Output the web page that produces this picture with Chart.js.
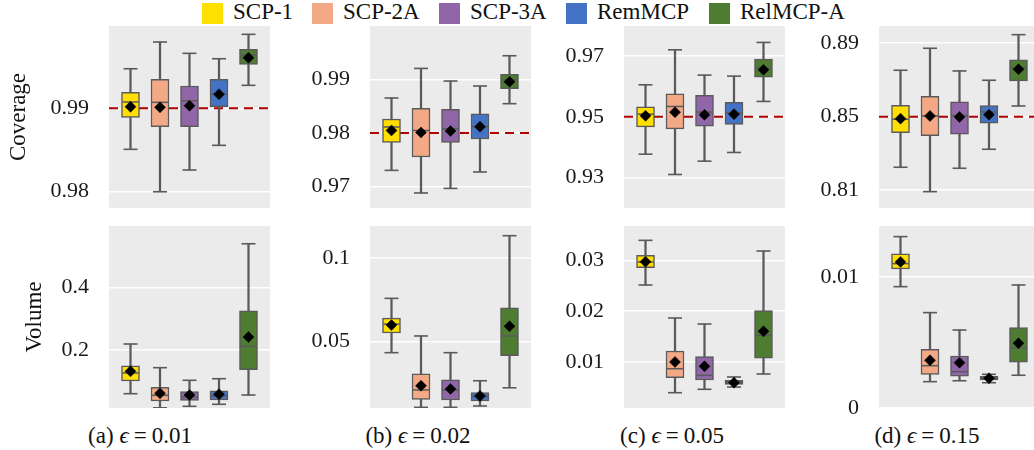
<!DOCTYPE html>
<html><head><meta charset="utf-8">
<script src="https://cdn.jsdelivr.net/npm/chart.js@4"></script>
<style>
body{margin:0;width:1034px;height:450px;overflow:hidden;background:#fff;position:relative;font-family:'Liberation Serif',serif;color:#111}
canvas{position:absolute}
.sq{position:absolute;width:21px;height:21px;top:3px}
.lt{position:absolute;top:0;font-size:23px;line-height:23px;white-space:nowrap}
.cap{position:absolute;top:424px;width:220px;text-align:center;font-size:23px;line-height:23px;white-space:nowrap}
.eq{margin:0 5px}
</style></head><body>
<div id="legend"></div>
<div id="caps"></div>
<canvas id="cA" width="270" height="202" style="left:0px;top:11px"></canvas>
<canvas id="cB" width="251" height="202" style="left:280px;top:11px"></canvas>
<canvas id="cC" width="251" height="202" style="left:534px;top:11px"></canvas>
<canvas id="cD" width="251" height="202" style="left:789px;top:11px"></canvas>
<canvas id="vA" width="270" height="202" style="left:0px;top:221px"></canvas>
<canvas id="vB" width="251" height="202" style="left:280px;top:221px"></canvas>
<canvas id="vC" width="251" height="202" style="left:534px;top:221px"></canvas>
<canvas id="vD" width="251" height="202" style="left:789px;top:221px"></canvas>
<script>
// ---- data ----
const methods = ['SCP-1', 'SCP-2A', 'SCP-3A', 'RemMCP', 'RelMCP-A'];
const colors = ['#FFDF00', '#F4A986', '#9066A8', '#4472C4', '#4E7D32'];
const epsilons = ['0.01', '0.02', '0.05', '0.15'];
const panelLetters = ['a', 'b', 'c', 'd'];
const targets = [0.99, 0.98, 0.95, 0.85];

// rows per method: [whisker low, Q1, median, Q3, whisker high, mean]
const covA = [
  [0.98508, 0.98892, 0.99076, 0.99192, 0.99475, 0.99019],
  [0.97999, 0.98779, 0.99072, 0.99348, 0.99796, 0.99012],
  [0.98260, 0.98779, 0.99091, 0.99268, 0.99660, 0.99031],
  [0.98556, 0.99019, 0.99175, 0.99348, 0.99595, 0.99168],
  [0.99276, 0.99528, 0.99640, 0.99708, 0.99888, 0.99607]];
const covB = [
  [0.97304, 0.97825, 0.98112, 0.98261, 0.98652, 0.98048],
  [0.96883, 0.97553, 0.98048, 0.98458, 0.99203, 0.98011],
  [0.96968, 0.97825, 0.98080, 0.98440, 0.98968, 0.98037],
  [0.97274, 0.97888, 0.98117, 0.98359, 0.98875, 0.98117],
  [0.98546, 0.98825, 0.98993, 0.99091, 0.99439, 0.98955]];
const covC = [
  [0.93773, 0.94671, 0.95089, 0.95329, 0.96053, 0.95033],
  [0.93105, 0.94605, 0.95342, 0.95757, 0.97204, 0.95155],
  [0.93543, 0.94694, 0.95155, 0.95704, 0.96372, 0.95066],
  [0.93829, 0.94750, 0.95132, 0.95474, 0.96339, 0.95089],
  [0.95507, 0.96306, 0.96612, 0.96898, 0.97447, 0.96546]];
const covD = [
  [0.82241, 0.84128, 0.84858, 0.85622, 0.87530, 0.84891],
  [0.80911, 0.83964, 0.85038, 0.86112, 0.88729, 0.85038],
  [0.82186, 0.84040, 0.85055, 0.85802, 0.87492, 0.84984],
  [0.83222, 0.84640, 0.85256, 0.85600, 0.86985, 0.85109],
  [0.85583, 0.86947, 0.87672, 0.88092, 0.89471, 0.87585]];
const volA = [
  [0.0598, 0.1005, 0.1262, 0.1496, 0.2193, 0.1316],
  [0.0145, 0.0364, 0.0546, 0.0803, 0.1433, 0.0611],
  [0.0193, 0.0384, 0.0492, 0.0662, 0.1028, 0.0556],
  [0.0258, 0.0396, 0.0524, 0.0694, 0.1079, 0.0579],
  [0.0556, 0.1368, 0.2119, 0.3261, 0.5410, 0.2417]];
const volB = [
  [0.0432, 0.0550, 0.0603, 0.0639, 0.0757, 0.0597],
  [0.0105, 0.0153, 0.0209, 0.0306, 0.0532, 0.0234],
  [0.0105, 0.0149, 0.0209, 0.0270, 0.0432, 0.0215],
  [0.0113, 0.0143, 0.0171, 0.0193, 0.0264, 0.0173],
  [0.0222, 0.0414, 0.0533, 0.0701, 0.1132, 0.0590]];
const volC = [
  [0.02514, 0.02855, 0.02967, 0.03098, 0.03393, 0.02972],
  [0.00396, 0.00691, 0.00868, 0.01216, 0.01865, 0.01000],
  [0.00463, 0.00646, 0.00738, 0.01104, 0.01747, 0.00915],
  [0.00508, 0.00561, 0.00600, 0.00640, 0.00705, 0.00593],
  [0.00764, 0.01073, 0.01525, 0.02009, 0.03183, 0.01604]];
const volD = [
  [0.00926, 0.01061, 0.01102, 0.01176, 0.01308, 0.01115],
  [0.00201, 0.00257, 0.00323, 0.00448, 0.00728, 0.00364],
  [0.00208, 0.00242, 0.00277, 0.00397, 0.00595, 0.00346],
  [0.00193, 0.00214, 0.00227, 0.00242, 0.00257, 0.00227],
  [0.00250, 0.00349, 0.00458, 0.00613, 0.00939, 0.00494]];

// axis ranges and ticks
const covRanges = [[0.97804, 0.99988], [0.96603, 0.99993], [0.92003, 0.97987], [0.80019, 0.89943]];
const volRanges = [[0.0139, 0.598], [0.0101, 0.119], [0.00095, 0.03675], [0, 0.01389]];
const covTicks = [[0.98, 0.99], [0.97, 0.98, 0.99], [0.93, 0.95, 0.97], [0.81, 0.85, 0.89]];
const volTicks = [[0.2, 0.4], [0.05, 0.1], [0.01, 0.02, 0.03], [0, 0.01]];

// ---- layout / style ----
const FONT = "'Liberation Serif', 'DejaVu Serif', serif";
const EDGE = '#5a5a5a';
const XHALF = 2.729;
Chart.defaults.font.family = FONT;

const bgPlugin = {
  id: 'bg',
  beforeDraw(chart) {
    const a = chart.chartArea, c = chart.ctx;
    c.save(); c.fillStyle = '#EBEBEB';
    c.fillRect(a.left, a.top, a.right - a.left, a.bottom - a.top);
    c.restore();
  }
};

function makePanel(id, stats, range, ticks, target, axisW, title, titlePad, padTop, padBottom) {
  const xs = stats.map((s, i) => i - 2);
  const datasets = [];
  datasets.push({
    type: 'bar', data: stats.map((s, i) => ({x: xs[i], y: [s[0], s[4]]})),
    backgroundColor: EDGE, barThickness: 1.6, grouped: false, order: 10, borderWidth: 0
  });
  datasets.push({
    type: 'bar', data: stats.map((s, i) => ({x: xs[i], y: [s[1], s[3]]})),
    backgroundColor: colors, borderColor: EDGE, borderWidth: 1.5, borderSkipped: false,
    barThickness: 18, grouped: false, order: 5
  });
  const capData = [];
  stats.forEach((s, i) => { capData.push({x: xs[i], y: s[0]}); capData.push({x: xs[i], y: s[4]}); });
  datasets.push({
    type: 'scatter', data: capData, pointStyle: 'line', pointRadius: 7,
    borderColor: EDGE, pointBorderColor: EDGE, pointBorderWidth: 1.6, order: 4
  });
  datasets.push({
    type: 'scatter', data: stats.map((s, i) => ({x: xs[i], y: s[2]})), pointStyle: 'line', pointRadius: 8.2,
    borderColor: EDGE, pointBorderColor: EDGE, pointBorderWidth: 1.5, order: 3
  });
  datasets.push({
    type: 'scatter', data: stats.map((s, i) => ({x: xs[i], y: s[5]})), pointStyle: 'rectRot', pointRadius: 5.5,
    backgroundColor: '#000', borderColor: '#000', pointBackgroundColor: '#000', pointBorderColor: '#000',
    pointBorderWidth: 0.5, order: 1
  });
  if (target !== null) {
    datasets.push({
      type: 'line', data: [{x: -XHALF, y: target}, {x: XHALF, y: target}],
      borderColor: '#B00000', borderWidth: 2, borderDash: [9, 6], pointRadius: 0, order: 12
    });
  }
  return new Chart(document.getElementById(id), {
    type: 'bar',
    data: {datasets},
    plugins: [bgPlugin],
    options: {
      responsive: false, animation: false, events: [],
      layout: {autoPadding: false, padding: {top: padTop, bottom: padBottom, left: 0, right: 0}},
      plugins: {legend: {display: false}, tooltip: {enabled: false}},
      scales: {
        x: {type: 'linear', min: -XHALF, max: XHALF, offset: false, display: false, grid: {display: false, offset: false}},
        y: {
          type: 'linear', min: range[0], max: range[1], beginAtZero: false,
          afterBuildTicks: (s) => { s.ticks = ticks.map(v => ({value: v})); },
          afterFit: (s) => { s.width = axisW; s.paddingTop = 0; s.paddingBottom = 0; },
          ticks: {color: '#1a1a1a', padding: 20, font: {size: 22, family: FONT}, callback: (v) => String(v)},
          grid: {color: '#ffffff', lineWidth: 1.6, drawTicks: false},
          border: {display: false},
          title: {display: !!title, text: title || '', color: '#111', font: {size: 23, family: FONT}, padding: {top: titlePad, bottom: 0}}
        }
      }
    }
  });
}

const covStats = [covA, covB, covC, covD];
const volStats = [volA, volB, volC, volD];
const covIds = ['cA', 'cB', 'cC', 'cD'];
const volIds = ['vA', 'vB', 'vC', 'vD'];
for (let p = 0; p < 4; p++) {
  const w = p === 0 ? 109 : 90;
  makePanel(covIds[p], covStats[p], covRanges[p], covTicks[p], targets[p], w, p === 0 ? 'Coverage' : null, 5, 15, 5);
  makePanel(volIds[p], volStats[p], volRanges[p], volTicks[p], null, w, p === 0 ? 'Volume' : null, 21, 5, 15);
}

// legend
const legendX = [202, 312, 439, 566, 709];
const lg = document.getElementById('legend');
methods.forEach((m, i) => {
  const sq = document.createElement('div'); sq.className = 'sq';
  sq.style.left = legendX[i] + 'px'; sq.style.background = colors[i];
  const t = document.createElement('div'); t.className = 'lt';
  t.style.left = (legendX[i] + 31) + 'px'; t.textContent = m;
  lg.appendChild(sq); lg.appendChild(t);
});
// captions
const capCenters = [140, 418, 672, 927];
const cp = document.getElementById('caps');
epsilons.forEach((e, i) => {
  const d = document.createElement('div'); d.className = 'cap';
  d.style.left = (capCenters[i] - 110) + 'px';
  d.innerHTML = '(' + panelLetters[i] + ') <i>ϵ</i><span class="eq">=</span>' + e;
  cp.appendChild(d);
});
</script>
</body></html>
